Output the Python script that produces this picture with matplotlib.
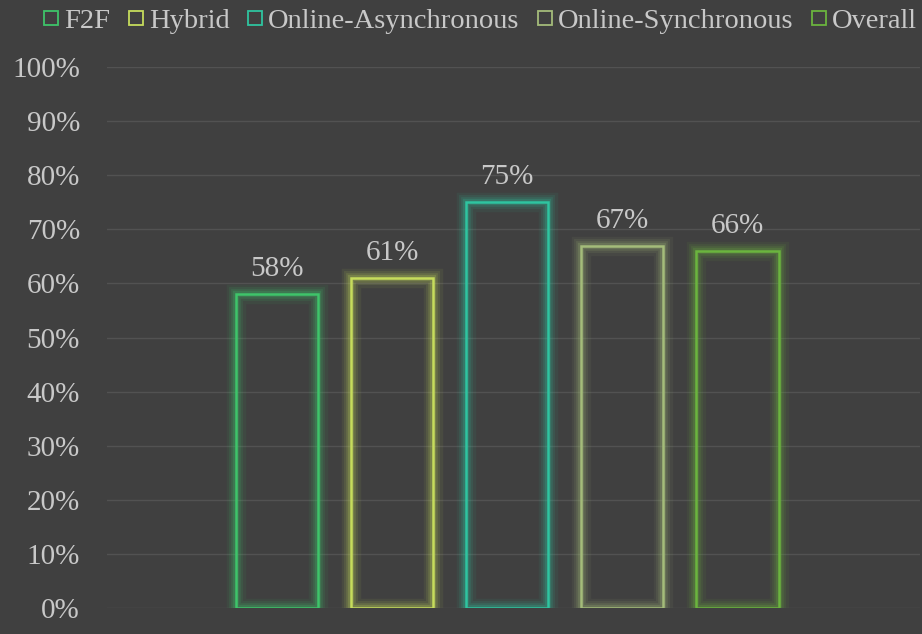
import matplotlib
matplotlib.use("Agg")
import matplotlib.pyplot as plt
from matplotlib.patches import Rectangle
from matplotlib.lines import Line2D

series = ["F2F", "Hybrid", "Online-Asynchronous", "Online-Synchronous", "Overall"]
values = [0.58, 0.61, 0.75, 0.67, 0.66]
labels = ["58%", "61%", "75%", "67%", "66%"]
colors = ["#3ec46a", "#c6dc5c", "#2fc4a0", "#a4bc7a", "#6bb43e"]

BG = "#404040"
TXT = "#c8c8c8"
plt.rcParams["font.family"] = ["Liberation Serif", "DejaVu Serif"]

fig = plt.figure(figsize=(9.22, 6.34), dpi=100, facecolor=BG)
ax = fig.add_axes([107 / 922, 26 / 634, 813 / 922, 541 / 634], facecolor=BG)

width = 0.72
for i, (v, c, lab) in enumerate(zip(values, colors, labels)):
    # glow: wide translucent strokes behind the outline
    for lw, a in [(14, 0.07), (10, 0.10), (7, 0.14), (4.5, 0.2)]:
        ax.add_patch(Rectangle((i - width / 2, 0), width, v, fill=False,
                               edgecolor=c, linewidth=lw, alpha=a,
                               joinstyle="miter"))
    ax.add_patch(Rectangle((i - width / 2, 0), width, v, fill=False,
                           edgecolor=c, linewidth=1.8, joinstyle="miter"))
    ax.text(i, v + 0.022, lab, ha="center", va="bottom", fontsize=21, color=TXT)

ax.set_xlim(-1.478, 5.59)
ax.set_ylim(0, 1)
ax.set_yticks([i / 10 for i in range(11)])
ax.set_yticklabels([f"{i * 10}%" for i in range(11)])
ax.tick_params(axis="y", length=0, pad=19.5, labelsize=21, labelcolor=TXT)
ax.set_xticks([])
ax.grid(axis="y", color="#525252", linewidth=1)
ax.set_axisbelow(True)
for s in ax.spines.values():
    s.set_visible(False)

handles = [Line2D([], [], marker="s", linestyle="none", markersize=10,
                  markerfacecolor="none", markeredgecolor=c, markeredgewidth=1.3)
           for c in colors]
fig.legend(handles, series, loc="upper center", bbox_to_anchor=(0.518, 1.027),
           ncol=5, frameon=False, fontsize=20.5, labelcolor=TXT,
           handletextpad=0.0, columnspacing=0.45, handlelength=0.9)

fig.savefig("out.png", dpi=100, facecolor=BG)
